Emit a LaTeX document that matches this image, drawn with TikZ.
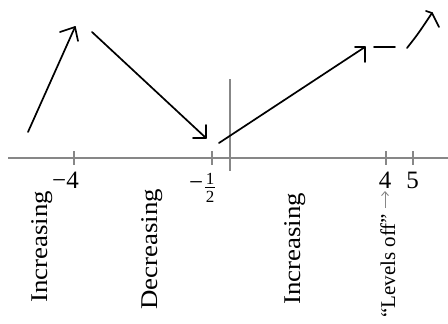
\documentclass[tikz,border=0pt]{standalone}
\usepackage{fontspec}
\setmainfont{Liberation Serif}
\usetikzlibrary{arrows.meta}
\definecolor{axisgray}{RGB}{135,135,135}
\tikzset{
  axisline/.style={draw=axisgray, line width=2.4pt},
  tickline/.style={draw=axisgray, line width=2pt},
  pen/.style={draw=black, line width=1.7pt, line cap=round, line join=round},
  numlab/.style={font=\fontsize{25}{29}\selectfont, inner sep=0pt},
  fraclab/.style={font=\fontsize{17}{19}\selectfont, inner sep=0pt, anchor=base},
  wordlab/.style={font=\fontsize{24}{28}\selectfont, inner sep=0pt, rotate=90, xscale=1.12, anchor=base west},
  levlab/.style={font=\fontsize{21}{25}\selectfont, inner sep=0pt, rotate=90, anchor=base west},
  pointer/.style={draw=axisgray, line width=0.9pt, -{Straight Barb[length=4pt,width=7pt]}}
}
\begin{document}
\begin{tikzpicture}[x=1pt,y=-1pt]
\useasboundingbox (0,0) rectangle (448,324);
% axes
\draw[axisline] (8,158) -- (448,158);
\draw[tickline] (230,79) -- (230,171);
\foreach \t in {74,212,386,413} \draw[tickline] (\t,151) -- (\t,165);
% tick labels
\node[numlab, anchor=base east] (m4) at (79,188) {−4};
\node[numlab, anchor=base east] (hm) at (203.5,190) {−};
\node[fraclab] (h1) at (210,184.5) {1};
\node[fraclab] (h2) at (210,202) {2};
\draw[black, line width=0.9pt] (205,187.5) -- (215,187.5);
\node[numlab, anchor=base] (n4) at (385,188) {4};
\node[numlab, anchor=base] (n5) at (412.5,188) {5};
% interval words
\node[wordlab] (inc1) at (47,303) {Increasing};
\node[wordlab] (dec) at (157,310) {Decreasing};
\node[wordlab] (inc2) at (300,305) {Increasing};
\node[levlab] (lev) at (395,318) {“Levels off”};
\coordinate (pa) at (385,208);
\coordinate (pb) at (385,191);
\draw[pointer] (pa) -- (pb);
% hand-drawn arrows
\coordinate (a1s) at (28,132);
\coordinate (a1t) at (75,27);
\draw[pen] (a1s) -- (a1t);
\draw[pen] (60,32) -- (a1t) -- (78,41);
\coordinate (a2s) at (92,32);
\coordinate (a2t) at (206,138);
\draw[pen] (a2s) -- (a2t);
\draw[pen] (193,138) -- (a2t) -- (206,125);
\coordinate (a3s) at (219,143);
\coordinate (a3t) at (365,47);
\draw[pen] (a3s) -- (a3t);
\draw[pen] (355,47) -- (a3t) -- (365,62);
\coordinate (d1) at (374,47);
\coordinate (d2) at (395,47);
\draw[pen] (d1) -- (d2);
\coordinate (a5s) at (407,48);
\coordinate (a5t) at (432,13);
\draw[pen] (a5s) .. controls (418,34) .. (a5t);
\draw[pen] (426,11) -- (a5t) -- (439,27);
\end{tikzpicture}
\end{document}
